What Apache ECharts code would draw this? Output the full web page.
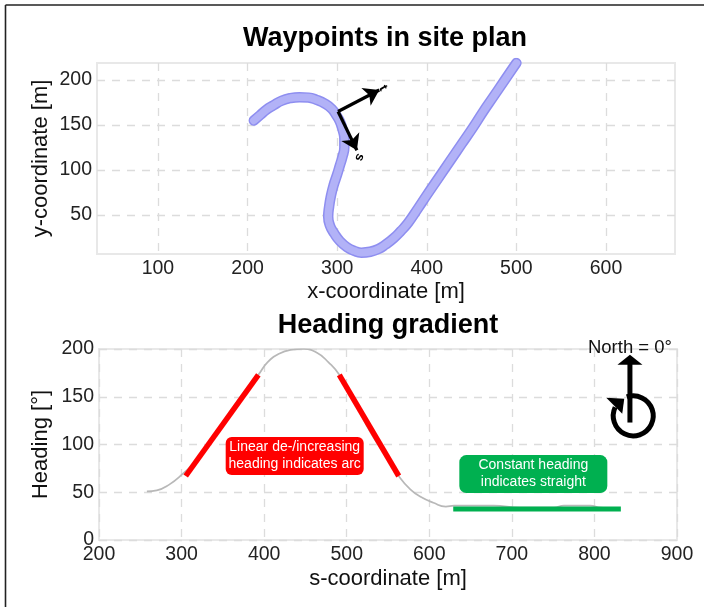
<!DOCTYPE html>
<html>
<head>
<meta charset="utf-8">
<style>html,body{margin:0;padding:0;background:#fff}#main{width:704px;height:607px}</style>
<script src="https://cdn.jsdelivr.net/npm/echarts@6/dist/echarts.min.js"></script>
</head>
<body>
<div id="main"></div>
<script>
// waypoints in site plan [x, y]
const waypointX = [207,214,221,229,238,248,258,268,277,286,294,299,303,306,308,308,306,303,300,296,293,291,290,292,297,303,311,319,327,337,346,354,363,371,379,390,400,413,426,439,452,463,474,487,500];
const waypointY = [155,161,167,172,177,180,181,180.5,178,174,168,161,154,145,135,125,115,105,95,83,71,59,48,38,29,21,14,10,8,9,12,17,24,32,41,57,72,91,110,129,148,165,181,200,219];
const xTicks1 = [100,200,300,400,500,600];
const yTicks1 = [50,100,150,200];
// local frame arrows at the marked waypoint
const tArrow = [[301,165],[347,189]];
const sArrow = [[301,165],[322,122]];

// heading over s-coordinate
const headingS = [258,270,285,301,320,340,360,380,393,404,418,432,448,464,478,491,510,530,550,563,577,590,605,620,630,678,710,751,763,795,807,830];
const headingDeg = [51,52,58,69,85,111,136,160,173,186,195,199,200,196,186,173,144,111,85,67,53,45,39,35,36,36,34,34,36,36,34,33];
const arcUpS = [305,393];
const arcUpDeg = [67,173];
const arcDownS = [491,563];
const arcDownDeg = [173,67];
const straightS = [629,832];
const straightDeg = [32.5,32.5];
const xTicks2 = [200,300,400,500,600,700,800,900];
const yTicks2 = [0,50,100,150,200];
const northShaft = [843,123];
const northTip = [843,194];
const northTurn = [847,130];

const font = '"Liberation Sans", Arial, sans-serif';
const gridLine = {show: true, lineStyle: {color: '#dcdcdc', type: [8, 7], width: 1.3}};

function axis(min, max, ticks, name, gap, extra) {
  return Object.assign({
    type: 'value', min: min, max: max,
    name: name, nameLocation: 'middle', nameGap: gap, nameMoveOverlap: false,
    nameTextStyle: {fontFamily: font, fontSize: 22, color: '#111'},
    axisLine: {show: false},
    axisTick: {show: false, customValues: ticks},
    axisLabel: {customValues: ticks, fontFamily: font, fontSize: 19.5, color: '#222', margin: 5, hideOverlap: false},
    splitLine: gridLine
  }, extra || {});
}

function textMark(name, pos, label) {
  return {
    name: name, type: 'scatter', xAxisIndex: 1, yAxisIndex: 1, symbolSize: 0, clip: false, z: 6,
    data: [pos], silent: true, itemStyle: {opacity: 1},
    label: Object.assign({show: true, position: 'inside', fontFamily: font}, label)
  };
}

const waypointData = waypointX.map((x, i) => [x, waypointY[i]]);

const chart = echarts.init(document.getElementById('main'), null, {renderer: 'canvas'});
chart.setOption({
  animation: false,
  backgroundColor: '#fff',
  title: [
    {text: 'Waypoints in site plan', left: 380, top: 20, textAlign: 'center', textStyle: {fontFamily: font, fontSize: 27, fontWeight: 'bold', color: '#000'}},
    {text: 'Heading gradient', left: 383, top: 307, textAlign: 'center', textStyle: {fontFamily: font, fontSize: 27, fontWeight: 'bold', color: '#000'}}
  ],
  grid: [
    {left: 97, top: 63, width: 578, height: 191, show: true, borderColor: '#e8e8e8', borderWidth: 2, backgroundColor: 'transparent'},
    {left: 99, top: 349, width: 578, height: 191, show: true, borderColor: '#e8e8e8', borderWidth: 2, backgroundColor: 'transparent'}
  ],
  xAxis: [
    axis(32, 677, xTicks1, 'x-coordinate [m]', 27, {gridIndex: 0}),
    axis(200, 900, xTicks2, 's-coordinate [m]', 28, {gridIndex: 1})
  ],
  yAxis: [
    axis(6.5, 219, yTicks1, 'y-coordinate [m]', 45, {gridIndex: 0}),
    axis(0, 200, yTicks2, 'Heading [°]', 47, {gridIndex: 1})
  ],
  graphic: [
    {type: 'line', shape: {x1: 5.5, y1: 5, x2: 704, y2: 5}, style: {stroke: '#222', lineWidth: 1.6}},
    {type: 'line', shape: {x1: 5.5, y1: 5, x2: 5.5, y2: 607}, style: {stroke: '#222', lineWidth: 1.6}}
  ],
  series: [
    {
      name: 'Waypoints rim', type: 'line', xAxisIndex: 0, yAxisIndex: 0, smooth: 0.5, showSymbol: false, z: 2,
      data: waypointData,
      lineStyle: {color: '#8e8ef0', width: 10.5, cap: 'round', join: 'round'}
    },
    {
      name: 'Waypoints', type: 'line', xAxisIndex: 0, yAxisIndex: 0, smooth: 0.5, showSymbol: false, z: 3,
      data: waypointData,
      lineStyle: {color: '#b2b2f7', width: 7.5, cap: 'round', join: 'round'},
      markLine: {
        silent: true, symbol: ['none', 'arrow'], symbolSize: 15, animation: false, label: {show: false},
        lineStyle: {color: '#000', width: 3.2, type: 'solid'},
        data: [
          [{coord: tArrow[0]}, {coord: tArrow[1]}],
          [{coord: sArrow[0]}, {coord: sArrow[1]}]
        ]
      }
    },
    {
      name: 'frame labels', type: 'scatter', xAxisIndex: 0, yAxisIndex: 0, symbolSize: 0, z: 6,
      itemStyle: {opacity: 1},
      data: [{value: [351, 191], name: 't', label: {rotate: -60}}, {value: [325, 114], name: 's', label: {rotate: -110}}],
      label: {show: true, position: 'inside', formatter: '{b}', fontFamily: font, fontSize: 13, fontWeight: 'bold', color: '#000'}
    },
    {
      name: 'Heading', type: 'line', xAxisIndex: 1, yAxisIndex: 1, showSymbol: false, smooth: 0.5, z: 2,
      data: headingS.map((s, i) => [s, headingDeg[i]]),
      lineStyle: {color: '#b8b8b8', width: 1.7}
    },
    {
      name: 'Arc up', type: 'line', xAxisIndex: 1, yAxisIndex: 1, showSymbol: false, z: 3,
      data: arcUpS.map((s, i) => [s, arcUpDeg[i]]),
      lineStyle: {color: '#ff0000', width: 5.5, cap: 'butt'}
    },
    {
      name: 'Arc down', type: 'line', xAxisIndex: 1, yAxisIndex: 1, showSymbol: false, z: 3,
      data: arcDownS.map((s, i) => [s, arcDownDeg[i]]),
      lineStyle: {color: '#ff0000', width: 5.5, cap: 'butt'}
    },
    {
      name: 'Straight', type: 'line', xAxisIndex: 1, yAxisIndex: 1, showSymbol: false, z: 3,
      data: straightS.map((s, i) => [s, straightDeg[i]]),
      lineStyle: {color: '#00b050', width: 5}
    },
    {
      name: 'North symbol', type: 'custom', xAxisIndex: 1, yAxisIndex: 1, clip: false, z: 4,
      data: [[northTurn[0], northTurn[1], northShaft[0], northShaft[1], northTip[0], northTip[1]]],
      renderItem: function (params, api) {
        const c = api.coord([api.value(0), api.value(1)]);
        const a = api.coord([api.value(2), api.value(3)]);
        const t = api.coord([api.value(4), api.value(5)]);
        return {
          type: 'group',
          children: [
            {type: 'arc', shape: {cx: c[0], cy: c[1], r: 20, startAngle: -1.9, endAngle: -2.7, clockwise: true},
              style: {stroke: '#000', fill: null, lineWidth: 5}},
            {type: 'polygon', shape: {points: [[c[0] - 27, c[1] - 18], [c[0] - 9, c[1] - 17], [c[0] - 11, c[1] - 2]]},
              style: {fill: '#000'}},
            {type: 'line', shape: {x1: a[0], y1: a[1], x2: t[0], y2: t[1] + 6}, style: {stroke: '#000', lineWidth: 5}},
            {type: 'polygon', shape: {points: [[t[0], t[1]], [t[0] - 12.5, t[1] + 10], [t[0] + 12.5, t[1] + 10]]},
              style: {fill: '#000'}}
          ]
        };
      }
    },
    textMark('North label', [843, 201.5], {formatter: 'North = 0°', fontSize: 18.5, color: '#111'}),
    textMark('Arc label', [437, 88], {
      formatter: 'Linear de-/increasing\nheading indicates arc', color: '#fff', fontSize: 14, lineHeight: 17,
      backgroundColor: '#ff0000', borderRadius: 6, width: 138, height: 38, align: 'center', verticalAlign: 'middle'
    }),
    textMark('Straight label', [726, 69], {
      formatter: 'Constant heading\nindicates straight', color: '#fff', fontSize: 14, lineHeight: 17,
      backgroundColor: '#00b050', borderRadius: 7, width: 148, height: 38, align: 'center', verticalAlign: 'middle'
    })
  ]
});
</script>
</body>
</html>
